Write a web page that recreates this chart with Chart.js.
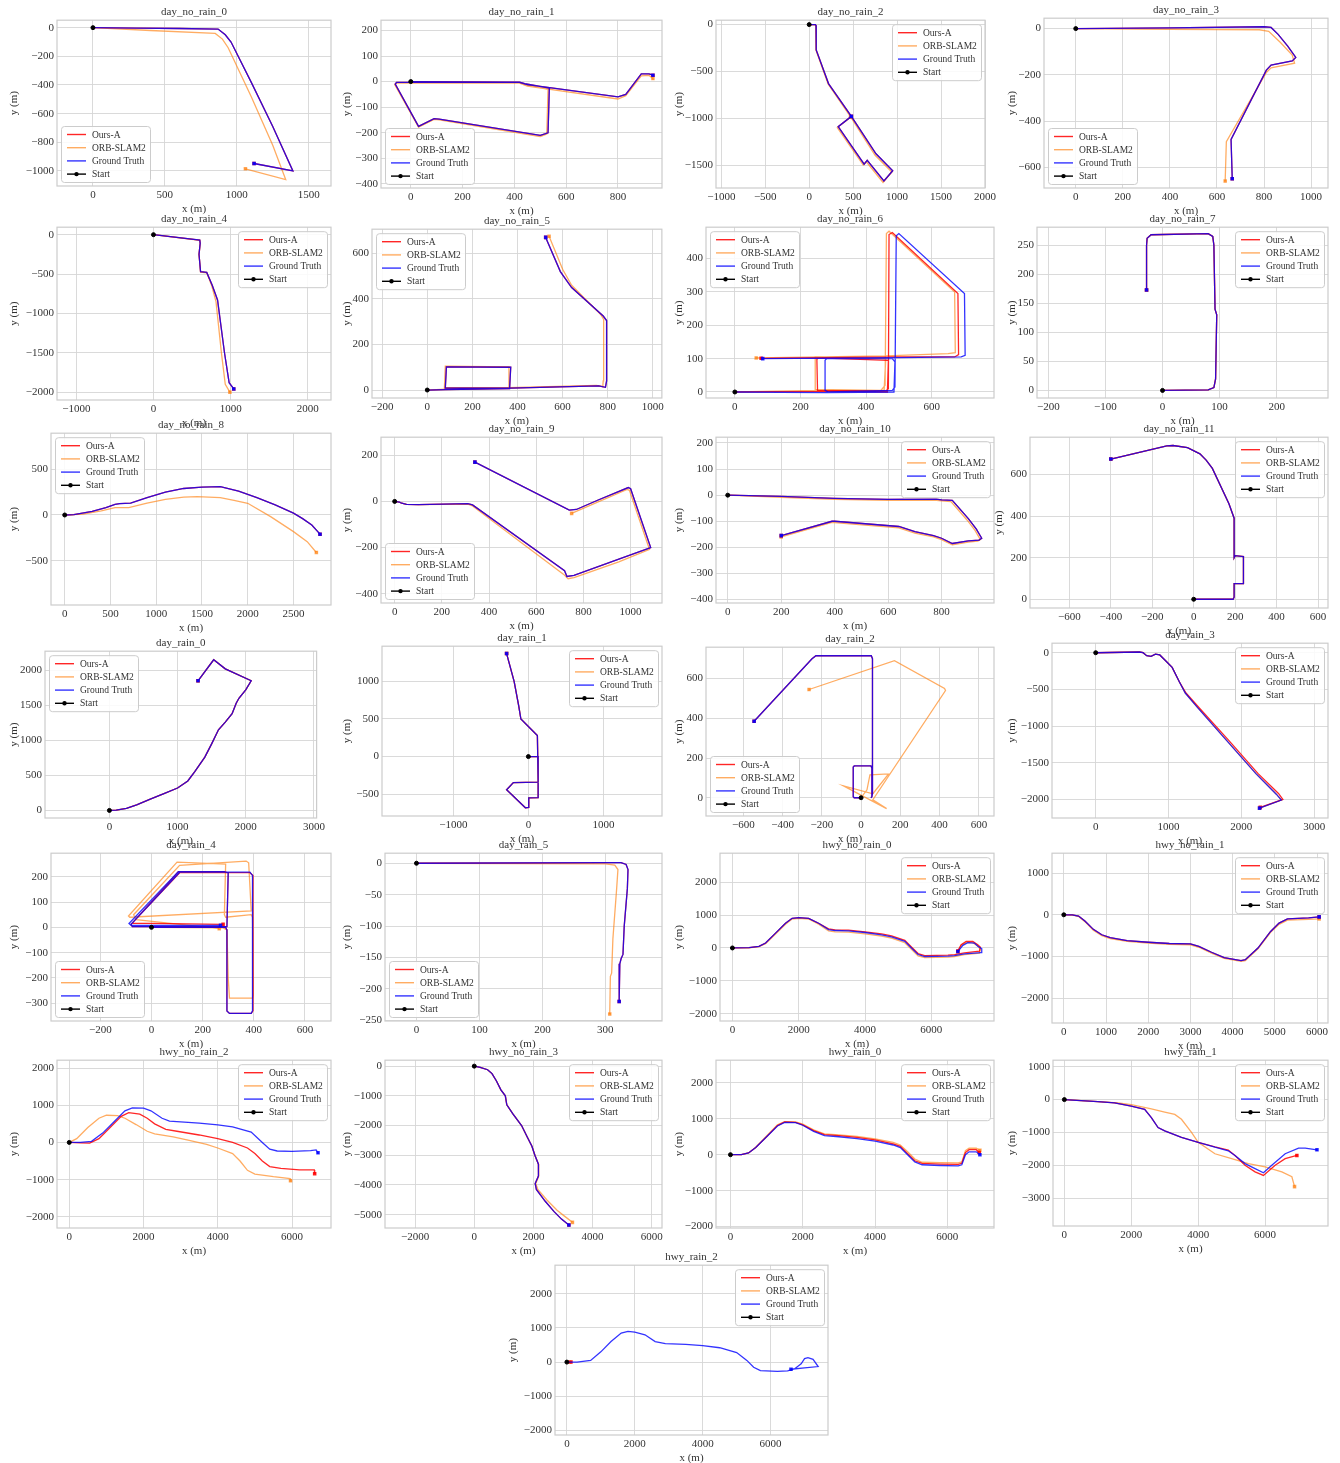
<!DOCTYPE html>
<html>
<head>
<meta charset="utf-8">
<script src="https://cdn.jsdelivr.net/npm/chart.js@4.4.0/dist/chart.umd.min.js"></script>
<style>
  body { margin: 0; background: #fff; }
  #page { position: relative; width: 1340px; height: 1463px; }
  .cell { position: absolute; }
</style>
</head>
<body>
<div id="page"></div>
<script>
// series names / colours shared by every panel
const seriesNames = ['Ours-A', 'ORB-SLAM2', 'Ground Truth', 'Start'];
const seriesColors = ['rgba(255,0,0,0.85)', 'rgba(255,127,14,0.65)', 'rgba(0,0,255,0.8)', '#000'];

// trajectories, [x, y] in metres
const gt0 = [[0,0],[300,-3],[600,-6],[870,-10],[920,-50],[960,-100],[1100,-380],[1250,-690],[1390,-1000],[1120,-948]];
const orb0 = [[0,0],[400,-20],[850,-40],[900,-80],[940,-140],[1100,-480],[1250,-820],[1340,-1060],[1060,-985]];

const gt1 = [[0,0],[420,-2],[440,-8],[535,-25],[530,-200],[500,-210],[110,-147],[90,-145],[30,-175],[-60,-10],[-55,-3],[420,-3],[450,-12],[800,-60],[830,-50],[890,30],[920,30],[935,25]];
const orb1 = [[0,0],[420,-5],[440,-12],[530,-30],[525,-205],[500,-215],[110,-150],[90,-148],[30,-178],[-62,-12],[-55,-5],[420,-6],[450,-18],[800,-68],[830,-55],[890,22],[920,24],[935,12]];

const gt2 = [[0,0],[70,0],[78,-10],[80,-270],[220,-630],[480,-980],[760,-1380],[950,-1560],[850,-1670],[660,-1450],[625,-1490],[330,-1090],[480,-980]];
const orb2 = [[0,0],[70,-3],[75,-15],[78,-275],[215,-635],[475,-990],[750,-1395],[940,-1575],[840,-1685],[650,-1465],[615,-1500],[320,-1100],[470,-990]];

const gt3 = [[0,0],[400,3],[800,8],[830,5],[860,-25],[900,-75],[935,-125],[920,-140],[830,-158],[810,-180],[660,-480],[665,-650]];
const orb3 = [[0,0],[400,-3],[780,-5],[820,-12],[870,-60],[920,-115],[930,-150],[830,-170],[810,-190],[640,-490],[635,-660]];

const gt4 = [[0,0],[600,-70],[605,-110],[590,-250],[610,-470],[690,-480],[760,-640],[830,-830],[920,-1500],[980,-1880],[1040,-1960]];
const orb4 = [[0,0],[600,-72],[605,-115],[590,-255],[610,-475],[690,-485],[755,-650],[810,-850],[880,-1500],[930,-1900],[990,-2000]];

const gt5 = [[0,0],[80,2],[365,6],[370,100],[85,102],[80,8],[370,8],[760,18],[790,12],[795,40],[795,305],[780,325],[640,450],[590,520],[525,670]];
const orb5 = [[0,0],[80,4],[360,8],[362,102],[80,105],[76,10],[360,10],[750,20],[778,15],[780,40],[782,310],[770,330],[640,460],[600,530],[540,675]];

const gt6 = [[0,0],[280,-2],[485,0],[488,90],[480,100],[280,100],[275,95],[275,5],[285,0],[480,5],[488,15],[492,468],[500,475],[700,295],[702,110],[690,105],[500,103],[85,100]];
const ours6 = [[0,0],[255,2],[465,0],[468,95],[255,102],[250,98],[252,5],[460,3],[468,10],[470,472],[480,478],[680,295],[682,112],[670,105],[470,105],[80,101]];
const orb6 = [[0,0],[250,5],[455,5],[460,100],[245,105],[245,8],[445,5],[458,20],[462,475],[470,482],[670,300],[672,118],[650,115],[460,108],[65,102]];

const gt7 = [[0,0],[80,1],[90,5],[93,20],[95,130],[92,140],[90,250],[88,265],[80,270],[-20,268],[-27,262],[-28,250],[-28,173]];

const gt8 = [[0,0],[100,5],[300,40],[450,80],[550,115],[600,125],[720,130],[900,190],[1100,250],[1300,290],[1500,305],[1700,310],[1900,260],[2100,190],[2300,110],[2500,20],[2600,-40],[2700,-110],[2790,-210]];
const orb8 = [[0,0],[200,10],[400,45],[550,80],[700,80],[900,130],[1100,170],[1300,195],[1450,200],[1700,190],[1850,160],[2000,128],[2250,-18],[2500,-182],[2650,-292],[2750,-410]];

const gt9 = [[0,0],[20,-3],[30,-8],[50,-13],[100,-14],[310,-10],[330,-15],[720,-300],[730,-325],[760,-320],[950,-250],[1085,-200],[1000,55],[990,60],[860,5],[770,-35],[740,-38],[340,170]];
const orb9 = [[0,0],[20,-3],[30,-8],[50,-13],[100,-14],[310,-12],[330,-20],[715,-315],[735,-335],[760,-330],[950,-262],[1080,-208],[995,48],[985,52],[860,-3],[750,-52]];

const gt10 = [[0,0],[200,-5],[400,-12],[600,-16],[780,-15],[800,-18],[840,-20],[900,-90],[930,-130],[950,-165],[940,-172],[900,-175],[840,-185],[800,-165],[770,-155],[700,-140],[640,-120],[400,-100],[390,-100],[200,-155]];
const orb10 = [[0,0],[200,-8],[400,-16],[600,-20],[780,-20],[800,-22],[835,-25],[895,-95],[925,-135],[945,-170],[935,-176],[900,-180],[840,-190],[800,-170],[770,-160],[700,-145],[640,-125],[400,-105],[390,-104],[200,-160]];

const gt11 = [[0,0],[190,0],[195,10],[195,75],[240,75],[240,205],[200,210],[195,200],[195,390],[170,460],[90,630],[60,670],[30,700],[-30,730],[-100,740],[-130,738],[-400,675]];

const gt12 = [[0,0],[100,5],[250,30],[400,80],[600,160],[800,240],[1000,320],[1150,420],[1250,550],[1400,760],[1500,950],[1600,1150],[1700,1260],[1800,1380],[1860,1530],[1900,1600],[2000,1720],[2080,1850],[1700,2020],[1530,2150],[1300,1850]];

const gt13 = [[0,0],[130,0],[130,-340],[-200,-345],[-290,-440],[-40,-680],[5,-675],[5,-550],[130,-545],[130,-340],[120,280],[-100,500],[-130,680],[-190,1000],[-290,1370]];

const gt14 = [[0,0],[-35,0],[-40,5],[-40,155],[-35,160],[50,160],[55,150],[55,5],[50,0],[55,5],[58,20],[58,700],[52,715],[-230,715],[-250,700],[-545,385]];
const orb14 = [[0,0],[30,40],[45,115],[140,120],[60,20],[-90,60],[130,-55],[60,-10],[430,540],[425,550],[170,690],[-265,545]];

const gt15 = [[0,0],[600,10],[650,0],[700,-40],[760,-50],[820,-20],[880,-30],[950,-100],[1050,-200],[1150,-400],[1230,-550],[1400,-750],[1800,-1200],[2200,-1650],[2480,-1930],[2550,-2010],[2250,-2120]];
const ours15 = [[0,0],[600,10],[650,0],[700,-40],[760,-50],[820,-20],[880,-30],[950,-100],[1050,-200],[1150,-400],[1240,-550],[1420,-750],[1830,-1200],[2230,-1650],[2510,-1920],[2570,-2000],[2260,-2110]];

const gt16 = [[0,0],[290,0],[295,-10],[295,-330],[305,-340],[390,-340],[395,-330],[395,205],[385,218],[110,218],[-80,12],[-75,3],[295,3],[300,215],[285,220],[105,220],[-88,15],[-80,8],[270,8]];
const ours16 = [[0,0],[290,0],[295,-10],[295,-330],[305,-340],[390,-340],[397,-330],[397,205],[385,216],[110,216],[-80,12],[-75,3],[295,3],[300,215],[285,220],[105,220],[-75,17],[280,12]];
const orb16 = [[0,0],[280,-2],[295,-10],[300,-200],[305,-280],[395,-280],[398,-270],[395,40],[390,50],[290,40],[285,50],[290,250],[100,258],[-90,45],[-85,40],[390,65],[380,255],[370,262],[110,245],[-70,50],[-60,30],[265,-5]];

const gt17 = [[0,0],[300,1],[325,1],[333,-2],[336,-10],[335,-40],[330,-100],[328,-145],[325,-152],[323,-160],[322,-220]];
const orb17 = [[0,0],[300,-1],[315,-3],[320,-10],[318,-40],[312,-120],[310,-175],[308,-180],[307,-240]];

const gt18 = [[0,0],[500,10],[800,50],[1000,150],[1300,450],[1600,750],[1800,900],[2000,920],[2300,900],[2600,750],[2900,560],[3100,530],[3500,520],[4000,470],[4500,400],[4800,340],[5200,200],[5400,0],[5600,-200],[5800,-260],[6500,-250],[6700,-230],[7000,-180],[7500,-140],[7520,-20],[7400,50],[7300,150],[7100,160],[6950,80],[6800,-110]];
const ours18 = [[0,0],[500,10],[800,50],[1000,150],[1300,450],[1600,750],[1800,900],[2000,920],[2300,900],[2600,750],[2900,580],[3100,550],[3500,540],[4000,490],[4500,430],[4800,370],[5200,230],[5400,30],[5600,-170],[5800,-230],[6500,-220],[6700,-200],[7000,-150],[7450,-100],[7480,20],[7400,100],[7250,200],[7050,200],[6900,100],[6800,-90]];
const orb18 = [[0,0],[500,5],[800,40],[1000,130],[1300,420],[1600,720],[1800,880],[2000,900],[2300,880],[2600,720],[2900,520],[3100,490],[3500,480],[4000,430],[4500,360],[4800,300],[5200,160],[5400,-40],[5600,-240],[5800,-290],[6500,-280],[6700,-260],[7000,-200],[7450,-160],[7480,-40],[7400,60],[7250,160],[7050,160],[6900,80],[6800,-120]];

const gt19 = [[0,0],[200,0],[350,-30],[500,-150],[700,-350],[900,-480],[1100,-550],[1500,-620],[2000,-660],[2500,-690],[3000,-700],[3200,-760],[3500,-900],[3800,-1030],[4200,-1100],[4300,-1080],[4600,-800],[4900,-400],[5100,-200],[5300,-100],[5800,-75],[6050,-50]];
const orb19 = [[0,0],[200,-5],[350,-40],[500,-165],[700,-370],[900,-500],[1100,-570],[1500,-640],[2000,-680],[2500,-710],[3000,-720],[3200,-780],[3500,-920],[3800,-1050],[4200,-1120],[4300,-1100],[4600,-820],[4900,-420],[5100,-230],[5300,-130],[5800,-110],[6050,-100]];

const gt20 = [[0,0],[300,0],[600,30],[900,250],[1200,550],[1500,850],[1700,930],[2000,920],[2200,850],[2500,650],[2700,570],[3000,550],[3500,520],[4000,470],[4400,420],[4900,280],[5200,0],[5400,-180],[5600,-230],[6000,-240],[6500,-220],[6650,-200],[6700,-280]];
const ours20 = [[0,0],[300,-10],[550,-20],[800,100],[1100,400],[1400,700],[1600,800],[1900,760],[2100,650],[2300,500],[2600,350],[2900,300],[3500,200],[4000,100],[4400,0],[4800,-150],[5000,-300],[5200,-500],[5400,-650],[5700,-700],[6200,-740],[6600,-740],[6610,-840]];
const orb20 = [[0,0],[200,100],[500,400],[800,650],[1000,730],[1300,720],[1500,650],[1800,480],[2100,300],[2300,230],[2800,150],[3200,60],[3700,-50],[4000,-150],[4400,-300],[4600,-500],[4800,-750],[5000,-850],[5500,-920],[5950,-970],[5960,-1030]];

const gt21 = [[0,0],[200,-40],[450,-120],[600,-250],[750,-500],[900,-800],[1050,-1000],[1100,-1300],[1300,-1600],[1600,-2000],[1800,-2400],[1950,-2700],[2050,-3000],[2170,-3300],[2170,-3700],[2060,-3950],[2100,-4150],[2400,-4550],[2700,-4900],[2950,-5150],[3200,-5350]];
const orb21 = [[0,0],[200,-40],[450,-120],[600,-250],[750,-500],[900,-800],[1050,-1000],[1100,-1300],[1300,-1600],[1600,-2000],[1800,-2400],[1950,-2700],[2050,-3000],[2170,-3300],[2180,-3700],[2080,-3950],[2150,-4150],[2450,-4500],[2800,-4850],[3050,-5050],[3320,-5260]];

const gt22 = [[0,0],[300,0],[500,50],[700,200],[1000,500],[1300,800],[1500,900],[1800,890],[2000,820],[2300,650],[2600,530],[3000,500],[3500,450],[4000,380],[4500,270],[4700,200],[4900,0],[5100,-200],[5300,-280],[5800,-300],[6300,-310],[6400,-280],[6500,0],[6600,80],[6800,80],[6900,0]];
const ours22 = [[0,0],[300,0],[500,50],[700,200],[1000,500],[1300,810],[1500,910],[1800,900],[2000,830],[2300,670],[2600,560],[3000,530],[3500,480],[4000,410],[4500,300],[4700,230],[4900,30],[5100,-170],[5300,-240],[5800,-260],[6300,-270],[6400,-240],[6500,60],[6600,140],[6800,140],[6880,60]];
const orb22 = [[0,0],[300,0],[500,50],[700,210],[1000,520],[1300,830],[1500,920],[1800,910],[2000,850],[2300,690],[2600,580],[3000,550],[3500,510],[4000,440],[4500,340],[4700,270],[4900,80],[5100,-120],[5300,-210],[5800,-220],[6300,-230],[6400,-200],[6500,110],[6600,180],[6800,180],[6900,120]];

const gt23 = [[0,0],[500,-30],[1000,-60],[1500,-100],[2000,-200],[2400,-300],[2600,-550],[2800,-850],[3000,-950],[3500,-1150],[4000,-1300],[4500,-1450],[4900,-1560],[5100,-1700],[5400,-1950],[5700,-2100],[5950,-2230],[6200,-2000],[6600,-1650],[7000,-1480],[7200,-1480],[7550,-1530]];
const ours23 = [[0,0],[500,-30],[1000,-60],[1500,-100],[2000,-200],[2400,-300],[2600,-550],[2800,-850],[3000,-950],[3500,-1150],[4000,-1300],[4500,-1440],[4900,-1540],[5100,-1700],[5400,-2000],[5700,-2200],[5950,-2310],[6300,-2000],[6600,-1800],[6950,-1700]];
const orb23 = [[0,0],[1000,-60],[1600,-100],[2000,-150],[2600,-280],[3000,-380],[3300,-450],[3500,-600],[3800,-1000],[4000,-1300],[4500,-1650],[5000,-1800],[5500,-1950],[6000,-2050],[6500,-2200],[6800,-2350],[6880,-2650]];

const gt24 = [[0,0],[300,0],[700,50],[1000,300],[1300,600],[1600,850],[1800,900],[2000,880],[2300,800],[2600,600],[2900,540],[3500,520],[4000,480],[4500,420],[5000,280],[5300,50],[5500,-150],[5700,-250],[6200,-270],[6500,-260],[6700,-200],[6900,-50],[7000,100],[7100,130],[7250,80],[7400,-130],[7000,-170],[6600,-210]];
const ours24 = [[0,0],[120,0]];
const orb24 = [[0,0],[80,0]];

// panel layout: box = plot frame [left, top, right, bottom] on the page
const plots = [
  {title:'day_no_rain_0', box:[57,20,333,186], yw:49, xr:[-250,1655], yr:[-1105,52], xs:500, ys:200, leg:'ll', ours:gt0, orb:orb0, gt:gt0},
  {title:'day_no_rain_1', box:[381,20,664,188], yw:40, xr:[-115,970], yr:[-416,240], xs:200, ys:100, leg:'ll', ours:gt1, orb:orb1, gt:gt1},
  {title:'day_no_rain_2', box:[716,20,996,188], yw:43, xr:[-1060,2000], yr:[-1745,47], xs:500, ys:500, leg:'ur', ours:gt2, orb:orb2, gt:gt2},
  {title:'day_no_rain_3', box:[1044,18,1330,188], yw:38, xr:[-135,1072], yr:[-690,45], xs:200, ys:200, leg:'ll', ours:gt3, orb:orb3, gt:gt3},
  {title:'day_no_rain_4', box:[57,227,333,400], yw:49, xr:[-1250,2300], yr:[-2100,95], xs:1000, ys:500, leg:'ur', ours:gt4, orb:orb4, gt:gt4},
  {title:'day_no_rain_5', box:[372,229,664,398], yw:31, xr:[-245,1040], yr:[-35,706], xs:200, ys:200, leg:'ul', ours:gt5, orb:orb5, gt:gt5},
  {title:'day_no_rain_6', box:[706,227,996,398], yw:33, xr:[-88,790], yr:[-18,494], xs:200, ys:100, leg:'ul', ours:ours6, orb:orb6, gt:gt6},
  {title:'day_no_rain_7', box:[1037,227,1330,398], yw:31, xr:[-220,290], yr:[-13,281], xs:100, ys:50, leg:'ur', ours:gt7, orb:gt7, gt:gt7},
  {title:'day_no_rain_8', box:[51,433,333,605], yw:43, xr:[-150,2910], yr:[-985,895], xs:500, ys:500, leg:'ul', ours:gt8, orb:orb8, gt:gt8},
  {title:'day_no_rain_9', box:[381,437,664,603], yw:40, xr:[-58,1133], yr:[-440,278], xs:200, ys:200, leg:'ll', ours:gt9, orb:orb9, gt:gt9},
  {title:'day_no_rain_10', box:[716,437,996,603], yw:43, xr:[-44,996], yr:[-413,222], xs:200, ys:100, leg:'ur', ours:gt10, orb:orb10, gt:gt10},
  {title:'day_no_rain_11', box:[1030,437,1330,608], yw:37, xr:[-790,648], yr:[-42,780], xs:200, ys:200, leg:'ur', ours:gt11, orb:gt11, gt:gt11},
  {title:'day_rain_0', box:[45,651,325,818], yw:37, xr:[-945,3040], yr:[-108,2272], xs:1000, ys:500, leg:'ul', ours:gt12, orb:gt12, gt:gt12},
  {title:'day_rain_1', box:[382,646,664,816], yw:41, xr:[-1950,1780], yr:[-790,1468], xs:1000, ys:500, leg:'ur', ours:gt13, orb:gt13, gt:gt13},
  {title:'day_rain_2', box:[706,647,996,816], yw:33, xr:[-790,677], yr:[-92,758], xs:200, ys:200, leg:'ll', ours:gt14, orb:orb14, gt:gt14},
  {title:'day_rain_3', box:[1052,643,1330,818], yw:46, xr:[-600,3190], yr:[-2255,130], xs:1000, ys:500, leg:'ur', ours:ours15, orb:gt15, gt:gt15},
  {title:'day_rain_4', box:[51,853,333,1021], yw:43, xr:[-393,702], yr:[-370,293], xs:200, ys:100, leg:'ll', ours:ours16, orb:orb16, gt:gt16},
  {title:'day_rain_5', box:[385,853,664,1021], yw:44, xr:[-50,390], yr:[-251,16], xs:100, ys:50, leg:'ll', ours:gt17, orb:orb17, gt:gt17},
  {title:'hwy_no_rain_0', box:[720,853,996,1021], yw:47, xr:[-375,7890], yr:[-2220,2880], xs:2000, ys:1000, leg:'ur', ours:ours18, orb:orb18, gt:gt18},
  {title:'hwy_no_rain_1', box:[1052,853,1330,1023], yw:46, xr:[-280,6260], yr:[-2600,1480], xs:1000, ys:1000, leg:'ur', ours:gt19, orb:orb19, gt:gt19},
  {title:'hwy_no_rain_2', box:[57,1060,333,1228], yw:49, xr:[-330,7050], yr:[-2300,2210], xs:2000, ys:1000, leg:'ur', ours:ours20, orb:orb20, gt:gt20},
  {title:'hwy_no_rain_3', box:[385,1060,664,1228], yw:44, xr:[-3020,6350], yr:[-5450,200], xs:2000, ys:1000, leg:'ur', ours:gt21, orb:orb21, gt:gt21},
  {title:'hwy_rain_0', box:[716,1060,996,1228], yw:43, xr:[-400,7290], yr:[-2040,2630], xs:2000, ys:1000, leg:'ur', ours:ours22, orb:orb22, gt:gt22},
  {title:'hwy_rain_1', box:[1053,1060,1330,1226], yw:47, xr:[-340,7880], yr:[-3850,1200], xs:2000, ys:1000, leg:'ur', ours:ours23, orb:orb23, gt:gt23},
  {title:'hwy_rain_2', box:[555,1265,830,1435], yw:48, xr:[-350,7690], yr:[-2134,2836], xs:2000, ys:1000, leg:'ur', ours:ours24, orb:orb24, gt:gt24},
];

const FONT = "'Liberation Serif', 'DejaVu Serif', serif";
const TXT = '#333';
const TH = 14.2;   // title box height
const XH = 30;     // x axis box height
const RP = 3;

Chart.defaults.font.family = FONT;

const fmt = v => (v < 0 ? '\u2212' : '') + Math.abs(v);
const pts = a => a.map(([x, y]) => ({x, y}));

function stepTicks(lo, hi, step) {
  const out = [];
  for (let v = Math.ceil(lo / step) * step; v <= hi; v += step) out.push({value: v});
  return out;
}

// light grey frame round the plot area
const frameBox = {
  id: 'frameBox',
  afterDatasetsDraw(chart) {
    const {ctx, chartArea: a} = chart;
    ctx.save();
    ctx.strokeStyle = '#cccccc';
    ctx.lineWidth = 1.2;
    ctx.strokeRect(a.left, a.top, a.right - a.left, a.bottom - a.top);
    ctx.restore();
  }
};

// matplotlib style legend inside the axes
const trajLegend = {
  id: 'trajLegend',
  afterDraw(chart, args, opts) {
    const {ctx, chartArea: a} = chart;
    const w = 89, h = 56, m = 4;
    const x = opts.corner[1] === 'r' ? a.right - m - w : a.left + m;
    const y = opts.corner[0] === 'u' ? a.top + m : a.bottom - m - h;
    ctx.save();
    ctx.beginPath();
    ctx.roundRect(x + 0.5, y + 0.5, w, h, 3);
    ctx.fillStyle = 'rgba(255,255,255,0.85)';
    ctx.fill();
    ctx.strokeStyle = '#cccccc';
    ctx.lineWidth = 1;
    ctx.stroke();
    ctx.font = '9.5px ' + FONT;
    ctx.textBaseline = 'middle';
    seriesNames.forEach((name, i) => {
      const yy = y + 8.5 + i * 13.2;
      ctx.strokeStyle = seriesColors[i];
      ctx.lineWidth = 1.4;
      ctx.beginPath();
      ctx.moveTo(x + 6, yy);
      ctx.lineTo(x + 25, yy);
      ctx.stroke();
      if (i === 3) {
        ctx.fillStyle = '#000';
        ctx.beginPath();
        ctx.arc(x + 15.5, yy, 2.2, 0, Math.PI * 2);
        ctx.fill();
      }
      ctx.fillStyle = TXT;
      ctx.fillText(name, x + 31, yy + 0.5);
    });
    ctx.restore();
  }
};

function line(label, data, color, order) {
  return {
    label, data: pts(data), showLine: true, borderColor: color, backgroundColor: color,
    borderWidth: 1.3, order,
    pointStyle: 'rect',
    pointRadius: c => c.dataIndex === c.dataset.data.length - 1 ? 1.6 : 0,
    pointHoverRadius: 0
  };
}

function axis(range, step, title, isX, size) {
  return {
    type: 'linear', min: range[0], max: range[1], bounds: 'data',
    afterBuildTicks: s => { s.ticks = stepTicks(range[0], range[1], step); },
    afterFit: s => { if (isX) s.height = XH; else s.width = size; },
    ticks: { callback: v => fmt(v), font: {size: 11}, color: TXT, padding: 3, autoSkip: false, maxRotation: 0 },
    grid: { color: '#d6d6d6', lineWidth: 0.9, drawTicks: false },
    border: { display: false },
    title: { display: true, text: title, font: {size: 11}, color: TXT, padding: 0 }
  };
}

const page = document.getElementById('page');
plots.forEach(p => {
  const [l, t, r, b] = p.box;
  const W = r - l + p.yw + RP;
  const H = b - t + TH + XH;
  const cell = document.createElement('div');
  cell.className = 'cell';
  cell.style.left = (l - p.yw) + 'px';
  cell.style.top = (t - TH) + 'px';
  cell.style.width = W + 'px';
  cell.style.height = H + 'px';
  const cv = document.createElement('canvas');
  cv.width = W; cv.height = H;
  cv.style.width = W + 'px'; cv.style.height = H + 'px';
  cell.appendChild(cv);
  page.appendChild(cell);

  new Chart(cv, {
    type: 'scatter',
    data: {
      datasets: [
        line(seriesNames[0], p.ours, seriesColors[0], 2),
        line(seriesNames[1], p.orb, seriesColors[1], 3),
        line(seriesNames[2], p.gt, seriesColors[2], 1),
        { label: seriesNames[3], data: [{x: 0, y: 0}], backgroundColor: '#000', borderColor: '#000',
          pointRadius: 2, pointStyle: 'circle', showLine: false, order: 0 }
      ]
    },
    options: {
      responsive: false,
      animation: false,
      devicePixelRatio: 1,
      layout: { padding: { left: 0, right: RP, top: 0, bottom: 0 } },
      plugins: {
        legend: { display: false },
        tooltip: { enabled: false },
        title: { display: true, fullSize: false, text: p.title, color: TXT, font: {size: 11, weight: 'normal'}, padding: {top: 0, bottom: 1} },
        trajLegend: { corner: p.leg }
      },
      scales: {
        x: axis(p.xr, p.xs, 'x (m)', true, 0),
        y: axis(p.yr, p.ys, 'y (m)', false, p.yw)
      }
    },
    plugins: [frameBox, trajLegend]
  });
});
</script>
</body>
</html>
